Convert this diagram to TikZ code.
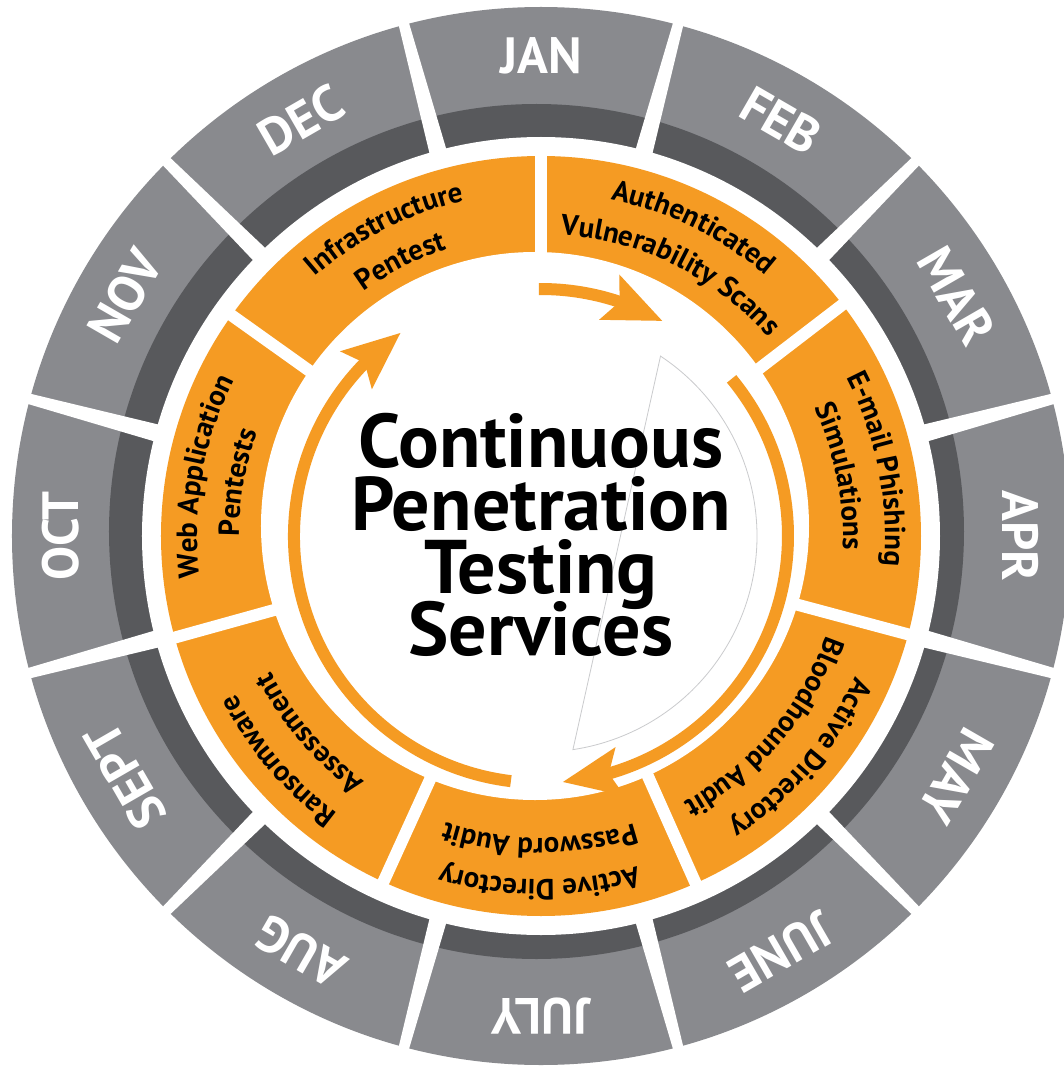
\documentclass[tikz,border=0pt]{standalone}
\usepackage{fontspec}
\setmainfont{PT Sans}
\usetikzlibrary{arrows.meta,bending,decorations.text}

\definecolor{ringlight}{HTML}{898A8E}
\definecolor{ringdark}{HTML}{58595C}
\definecolor{segorange}{HTML}{F59B23}
\definecolor{faintline}{HTML}{CACBCD}

\newcommand{\segfont}{\fontsize{29}{29}\selectfont\bfseries}
% two-line label bent along the orange band, centred on angle #1
\newcommand{\seglabel}[3]{%
  \path[decorate,decoration={text along path,text align=center,
        text={|\segfont|#2}}]
    ({#1+50}:344) arc[start angle={#1+50},end angle={#1-50},radius=344];
  \path[decorate,decoration={text along path,text align=center,
        text={|\segfont|#3}}]
    ({#1+50}:302) arc[start angle={#1+50},end angle={#1-50},radius=302];
}

\begin{document}
\begin{tikzpicture}[x=1pt,y=1pt,
  monthlabel/.style={text=white,font=\fontsize{51}{51}\selectfont\bfseries,inner sep=0pt},
  titleline/.style={font=\fontsize{76}{76}\selectfont\bfseries,anchor=base,inner sep=0pt},
  cyclearrow/.style={draw=segorange,line width=12pt,
    -{Stealth[length=57pt,width=47pt,inset=10pt,flex]}},
  gapstrip/.style={fill=white},
]
\useasboundingbox (-541,-530) rectangle (523,536);
\clip (-541,-530) rectangle (523,536);
\fill[white] (-541,-530) rectangle (523,536);

% outer month ring with its darker inner band
\fill[ringlight] (0,0) circle[radius=529];
\fill[ringdark] (-4.5,4.5) circle[radius=427.5];
\fill[white] (0,0) circle[radius=399];
\foreach \a in {75,105,...,405}
  \fill[gapstrip,rotate=\a] (385,-9) -- (540,-5) -- (540,5) -- (385,9) -- cycle;

% month names
\foreach \m [count=\i from 0] in {JAN,FEB,MAR,APR,MAY,JUNE,JULY,AUG,SEPT,OCT,NOV,DEC}
  \node[monthlabel,rotate={-30*\i}] (m\i) at ({90-30*\i}:480) {\m};

% orange service ring
\fill[segorange] (0,0) circle[radius=380];
\fill[white] (-6,10) circle[radius=274];
\foreach \a in {90,37.5,-15,-66,-114.5,195.5,144.5}
  \fill[gapstrip,rotate=\a] (250,-6) rectangle (390,6);

% faint outline in the centre
\draw[faintline,line width=0.8pt]
  (56.4:216) arc[start angle=56.4,end angle=-81.5,radius=216] -- cycle;

% service labels
\seglabel{117}{Infrastructure}{Pentest}
\seglabel{63.75}{Authenticated}{Vulnerability Scans}
\seglabel{11.25}{E-mail Phishing}{Simulations}
\seglabel{-40.5}{Active Directory}{Bloodhound Audit}
\seglabel{-90.25}{Active Directory}{Password Audit}
\seglabel{-139.5}{Ransomware}{Assessment}
\seglabel{170}{Web Application}{Pentests}

% cycle arrows
\draw[cyclearrow] (90.5:247) arc[start angle=90.5,end angle=60.5,radius=247];
\draw[cyclearrow] (39.5:247) arc[start angle=39.5,end angle=-85,radius=247];
\draw[cyclearrow] (263:247) arc[start angle=263,end angle=124.6,radius=247];

% title
\node[titleline] (t1) at (0,69) {Continuous};
\node[titleline] (t2) at (0,6) {Penetration};
\node[titleline] (t3) at (0,-57) {Testing};
\node[titleline] (t4) at (0,-119) {Services};
\end{tikzpicture}
\end{document}
